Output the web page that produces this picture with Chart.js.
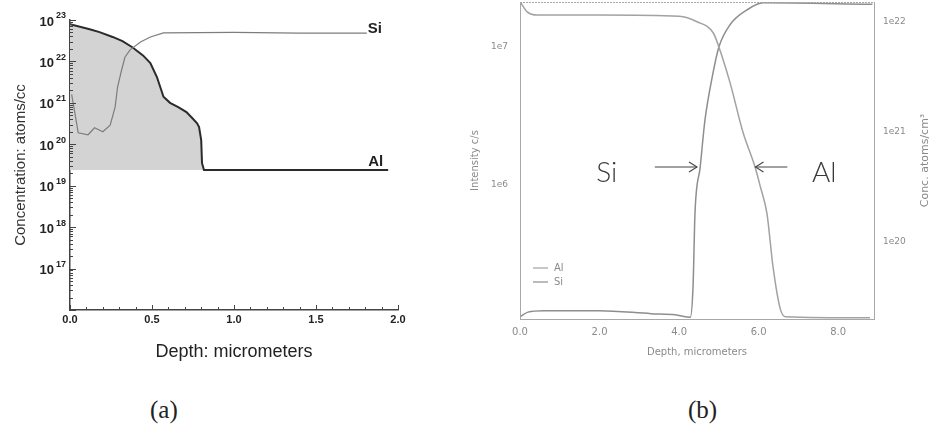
<!DOCTYPE html>
<html><head><meta charset="utf-8">
<script src="https://cdn.jsdelivr.net/npm/chart.js@4.4.1/dist/chart.umd.min.js"></script>
<style>
html,body{margin:0;padding:0;background:#fff;width:930px;height:433px;overflow:hidden;position:relative}
#ca{position:absolute;left:0;top:0;width:440px;height:370px}
#cb{position:absolute;left:440px;top:0;width:490px;height:370px}
.cap{position:absolute;font-family:"Liberation Serif","DejaVu Serif",serif;font-size:25px;line-height:26px;color:#222}
</style></head><body>
<canvas id="ca" width="440" height="370"></canvas>
<canvas id="cb" width="490" height="370"></canvas>
<div class="cap" style="left:150px;top:397px">(a)</div>
<div class="cap" style="left:688px;top:397px">(b)</div>
<script>
// ---------- Panel (a) data ----------
const depthA_Al = [0.0,0.12,0.18,0.26,0.32,0.38,0.445,0.49,0.53,0.57,0.61,0.66,0.71,0.745,0.775,0.787,0.80,0.805,0.817,1.2,1.6,1.94];
const alA       = [7.9e22,6.0e22,5.1e22,3.9e22,3.1e22,2.2e22,1.4e22,9.1e21,4.2e21,1.4e21,1.0e21,7.9e20,6.0e20,4.3e20,3.2e20,2.6e20,1.26e20,3.5e19,2.4e19,2.4e19,2.4e19,2.4e19];
const alFloorA  = 2.4e19;
const depthA_Si = [0.01,0.03,0.05,0.11,0.15,0.2,0.245,0.275,0.29,0.315,0.335,0.366,0.43,0.49,0.57,1.0,1.4,1.81];
const siA       = [1.6e21,5.6e20,1.9e20,1.7e20,2.5e20,2.0e20,2.9e20,7.9e20,2.4e21,6.3e21,1.26e22,1.9e22,2.95e22,3.9e22,4.9e22,5.0e22,4.8e22,4.8e22];
const xTicksA   = [0.0,0.5,1.0,1.5,2.0];
const yExpA     = [17,18,19,20,21,22,23];

// ---------- Panel (b) data ----------
const depthB_Al = [0.02,0.18,0.43,2.0,4.0,4.45,4.86,5.0,5.28,5.61,5.91,6.04,6.21,6.36,6.54,6.67,8.8];
const alB       = [1.48e22,1.23e22,1.15e22,1.15e22,1.12e22,1.0e22,7.9e21,5.9e21,2.8e21,9.8e20,4.8e20,3.2e20,1.8e20,6.0e19,2.5e19,2.1e19,2.05e19];
const depthB_Si = [0.02,0.2,0.6,2.0,3.3,3.9,4.28,4.35,4.40,4.53,4.65,4.83,5.0,5.28,5.71,6.11,8.86];
const siB       = [1.12e5,1.2e5,1.23e5,1.23e5,1.17e5,1.15e5,1.1e5,1.82e5,6.3e5,1.35e6,2.95e6,6.0e6,1.0e7,1.45e7,1.86e7,2.09e7,2.04e7];
const xTicksB   = [0.0,2.0,4.0,6.0,8.0];
const yTicksBL  = [1e6,1e7];
const yTicksBR  = [1e20,1e21,1e22];

const zip = (xs, ys) => xs.map((x, i) => ({x: x, y: ys[i]}));
const minorA = [];
for (let i = 0; i <= 20; i++) minorA.push(i / 10);
const noPad = s => { s.paddingTop = 0; s.paddingBottom = 0; s.paddingLeft = 0; s.paddingRight = 0; };

// ---------- Panel (a) ----------
const plugA = {
  id: 'plugA',
  afterDraw(chart) {
    const ctx = chart.ctx, xs = chart.scales.x, ys = chart.scales.y;
    const ca = chart.chartArea;
    ctx.save();
    ctx.strokeStyle = '#444'; ctx.lineWidth = 1;
    minorA.forEach(v => {
      const px = Math.round(xs.getPixelForValue(v)) + 0.5;
      const major = xTicksA.some(t => Math.abs(t - v) < 1e-6);
      ctx.beginPath(); ctx.moveTo(px, ca.bottom); ctx.lineTo(px, ca.bottom - (major ? 5 : 3)); ctx.stroke();
    });
    for (let d = 16; d <= 23; d++) {
      for (let k = 1; k <= 9; k++) {
        const v = k * Math.pow(10, d);
        if (v > 1.0001e23) continue;
        const py = Math.round(ys.getPixelForValue(v)) + 0.5;
        ctx.beginPath(); ctx.moveTo(ca.left, py); ctx.lineTo(ca.left + (k === 1 ? 6 : 3), py); ctx.stroke();
      }
    }
    ctx.fillStyle = '#222';
    yExpA.forEach(e => {
      const py = ys.getPixelForValue(Math.pow(10, e));
      ctx.font = 'bold 13px "Liberation Sans", Arial, sans-serif';
      ctx.textAlign = 'right'; ctx.textBaseline = 'middle';
      ctx.fillText('10', 54, py + 2);
      ctx.font = 'bold 9px "Liberation Sans", Arial, sans-serif';
      ctx.textAlign = 'left';
      ctx.fillText(String(e), 56, py - 4);
    });
    ctx.font = 'bold 15px "Liberation Sans", Arial, sans-serif';
    ctx.textAlign = 'left'; ctx.textBaseline = 'bottom';
    const dsAl = chart.data.datasets[0], dsSi = chart.data.datasets[1];
    const lastSi = dsSi.data[dsSi.data.length - 1];
    const lastAl = dsAl.data[dsAl.data.length - 1];
    ctx.fillText(dsSi.label, xs.getPixelForValue(lastSi.x) + 1, ys.getPixelForValue(lastSi.y) + 3);
    ctx.fillText(dsAl.label, xs.getPixelForValue(lastAl.x) - 20, ys.getPixelForValue(lastAl.y) - 1);
    ctx.restore();
  }
};

new Chart(document.getElementById('ca'), {
  type: 'line',
  data: {datasets: [
    {label: 'Al', order: 2, data: zip(depthA_Al, alA), borderColor: '#2b2b2b', borderWidth: 2, pointRadius: 0,
     fill: {value: alFloorA}, backgroundColor: '#d3d3d3', tension: 0},
    {label: 'Si', order: 1, data: zip(depthA_Si, siA), borderColor: '#7d7d7d', borderWidth: 1.2, pointRadius: 0, fill: false, tension: 0}
  ]},
  options: {
    responsive: false, animation: false, devicePixelRatio: 1,
    layout: {padding: {left: 0, top: 20, right: 42, bottom: 0}},
    plugins: {legend: {display: false}, tooltip: {enabled: false}},
    scales: {
      x: {
        type: 'linear', min: 0, max: 2,
        afterBuildTicks: s => { s.ticks = minorA.map(v => ({value: v})); },
        ticks: {
          autoSkip: false, maxRotation: 0, padding: 3, color: '#222',
          font: {family: '"Liberation Sans", Arial, sans-serif', size: 11, weight: 'bold'},
          callback: v => xTicksA.some(t => Math.abs(t - v) < 1e-6) ? Number(v).toFixed(1) : ''
        },
        grid: {display: false, drawTicks: false},
        border: {display: true, color: '#444', width: 1.5},
        title: {display: true, text: 'Depth: micrometers', color: '#222',
                font: {family: '"Liberation Sans", Arial, sans-serif', size: 18}, padding: {top: 0, bottom: 7}},
        afterFit: s => { s.height = 60; noPad(s); }
      },
      y: {
        type: 'logarithmic', min: 1e16, max: 1e23,
        ticks: {display: false},
        grid: {display: false, drawTicks: false},
        border: {display: true, color: '#444', width: 1.5},
        title: {display: true, text: 'Concentration: atoms/cc', color: '#333',
                font: {family: '"Liberation Sans Narrow", "Liberation Sans", Arial, sans-serif', size: 15}, padding: {top: 12, bottom: 0}},
        afterFit: s => { s.width = 70; noPad(s); }
      }
    }
  },
  plugins: [plugA]
});

// ---------- Panel (b) ----------
const plugB = {
  id: 'plugB',
  afterDraw(chart) {
    const ctx = chart.ctx, xs = chart.scales.x, yl = chart.scales.y, ca = chart.chartArea;
    ctx.save();
    ctx.strokeStyle = '#a8a8a8'; ctx.lineWidth = 1; ctx.setLineDash([2, 1]);
    ctx.beginPath(); ctx.moveTo(ca.left, ca.top + 0.5); ctx.lineTo(ca.right, ca.top + 0.5); ctx.stroke();
    ctx.setLineDash([]);
    ctx.fillStyle = '#8a8a8a';
    ctx.font = '11px "DejaVu Sans", sans-serif';
    ctx.textAlign = 'center'; ctx.textBaseline = 'middle';
    ctx.translate(485, (ca.top + ca.bottom) / 2);
    ctx.rotate(-Math.PI / 2);
    ctx.fillText('Conc. atoms/cm³', 0, 0);
    ctx.setTransform(1, 0, 0, 1, 0, 0);
    ctx.font = '10px "DejaVu Sans", sans-serif';
    ctx.textAlign = 'left';
    chart.data.datasets.forEach((ds, i) => {
      const y = 268 + i * 14;
      ctx.strokeStyle = ds.borderColor; ctx.lineWidth = 1.2;
      ctx.beginPath(); ctx.moveTo(ca.left + 13, y); ctx.lineTo(ca.left + 28, y); ctx.stroke();
      ctx.fillStyle = '#8a8a8a';
      ctx.fillText(ds.label, ca.left + 34, y);
    });
    const yMid = yl.getPixelForValue(1.35e6);
    ctx.fillStyle = '#3a3a3a';
    ctx.font = '300 28px Lato, "Open Sans", sans-serif';
    ctx.textAlign = 'center'; ctx.textBaseline = 'middle';
    ctx.fillText('Si', xs.getPixelForValue(2.18), yMid + 6);
    ctx.fillText('Al', xs.getPixelForValue(7.65), yMid + 6);
    ctx.strokeStyle = '#444'; ctx.lineWidth = 1.1;
    const arrow = (x0, x1) => {
      const a = xs.getPixelForValue(x0), b = xs.getPixelForValue(x1);
      const dir = b > a ? 1 : -1;
      ctx.beginPath(); ctx.moveTo(a, yMid); ctx.lineTo(b, yMid); ctx.stroke();
      ctx.beginPath(); ctx.moveTo(b - dir * 8, yMid - 5); ctx.lineTo(b, yMid); ctx.lineTo(b - dir * 8, yMid + 5); ctx.stroke();
    };
    arrow(3.39, 4.45);
    arrow(6.72, 5.92);
    ctx.restore();
  }
};

const fontB = {family: '"DejaVu Sans", sans-serif', size: 9};
new Chart(document.getElementById('cb'), {
  type: 'line',
  data: {datasets: [
    {label: 'Al', data: zip(depthB_Al, alB), yAxisID: 'y2', borderColor: '#a2a2a2', borderWidth: 1.5, pointRadius: 0, fill: false, cubicInterpolationMode: 'monotone'},
    {label: 'Si', data: zip(depthB_Si, siB), yAxisID: 'y', borderColor: '#8e8e8e', borderWidth: 1.5, pointRadius: 0, fill: false, cubicInterpolationMode: 'monotone'}
  ]},
  options: {
    responsive: false, animation: false, devicePixelRatio: 1,
    layout: {padding: {left: 0, top: 2, right: 0, bottom: 0}},
    plugins: {legend: {display: false}, tooltip: {enabled: false}},
    scales: {
      x: {
        type: 'linear', min: 0, max: 8.9,
        afterBuildTicks: s => { s.ticks = xTicksB.map(v => ({value: v})); },
        ticks: {color: '#8a8a8a', font: {family: fontB.family, size: 10}, padding: 7, maxRotation: 0, autoSkip: false,
                callback: v => Number(v).toFixed(1)},
        grid: {display: false, drawTicks: false},
        border: {display: true, color: '#a8a8a8', width: 1, dash: [2, 1]},
        title: {display: true, text: 'Depth, micrometers', color: '#8a8a8a', font: {family: fontB.family, size: 10}, padding: {top: 0, bottom: 12}},
        afterFit: s => { s.height = 51; noPad(s); }
      },
      y: {
        type: 'logarithmic', position: 'left', min: 1.07e5, max: 2.12e7,
        afterBuildTicks: s => { s.ticks = yTicksBL.map(v => ({value: v})); },
        ticks: {color: '#8a8a8a', font: fontB, padding: 12, callback: v => '1e' + Math.round(Math.log10(v))},
        grid: {display: false, drawTicks: false},
        border: {display: true, color: '#a8a8a8', width: 1, dash: [2, 1]},
        title: {display: true, text: 'Intensity c/s', color: '#8a8a8a', font: {family: fontB.family, size: 10}, padding: {top: 29, bottom: 0}},
        afterFit: s => { s.width = 80; noPad(s); }
      },
      y2: {
        type: 'logarithmic', position: 'right', min: 2.0e19, max: 1.51e22,
        afterBuildTicks: s => { s.ticks = yTicksBR.map(v => ({value: v})); },
        ticks: {color: '#8a8a8a', font: fontB, padding: 9, callback: v => '1e' + Math.round(Math.log10(v))},
        grid: {display: false, drawTicks: false},
        border: {display: true, color: '#a8a8a8', width: 1, dash: [2, 1]},
        afterFit: s => { s.width = 56; noPad(s); }
      }
    }
  },
  plugins: [plugB]
});
</script></body></html>
